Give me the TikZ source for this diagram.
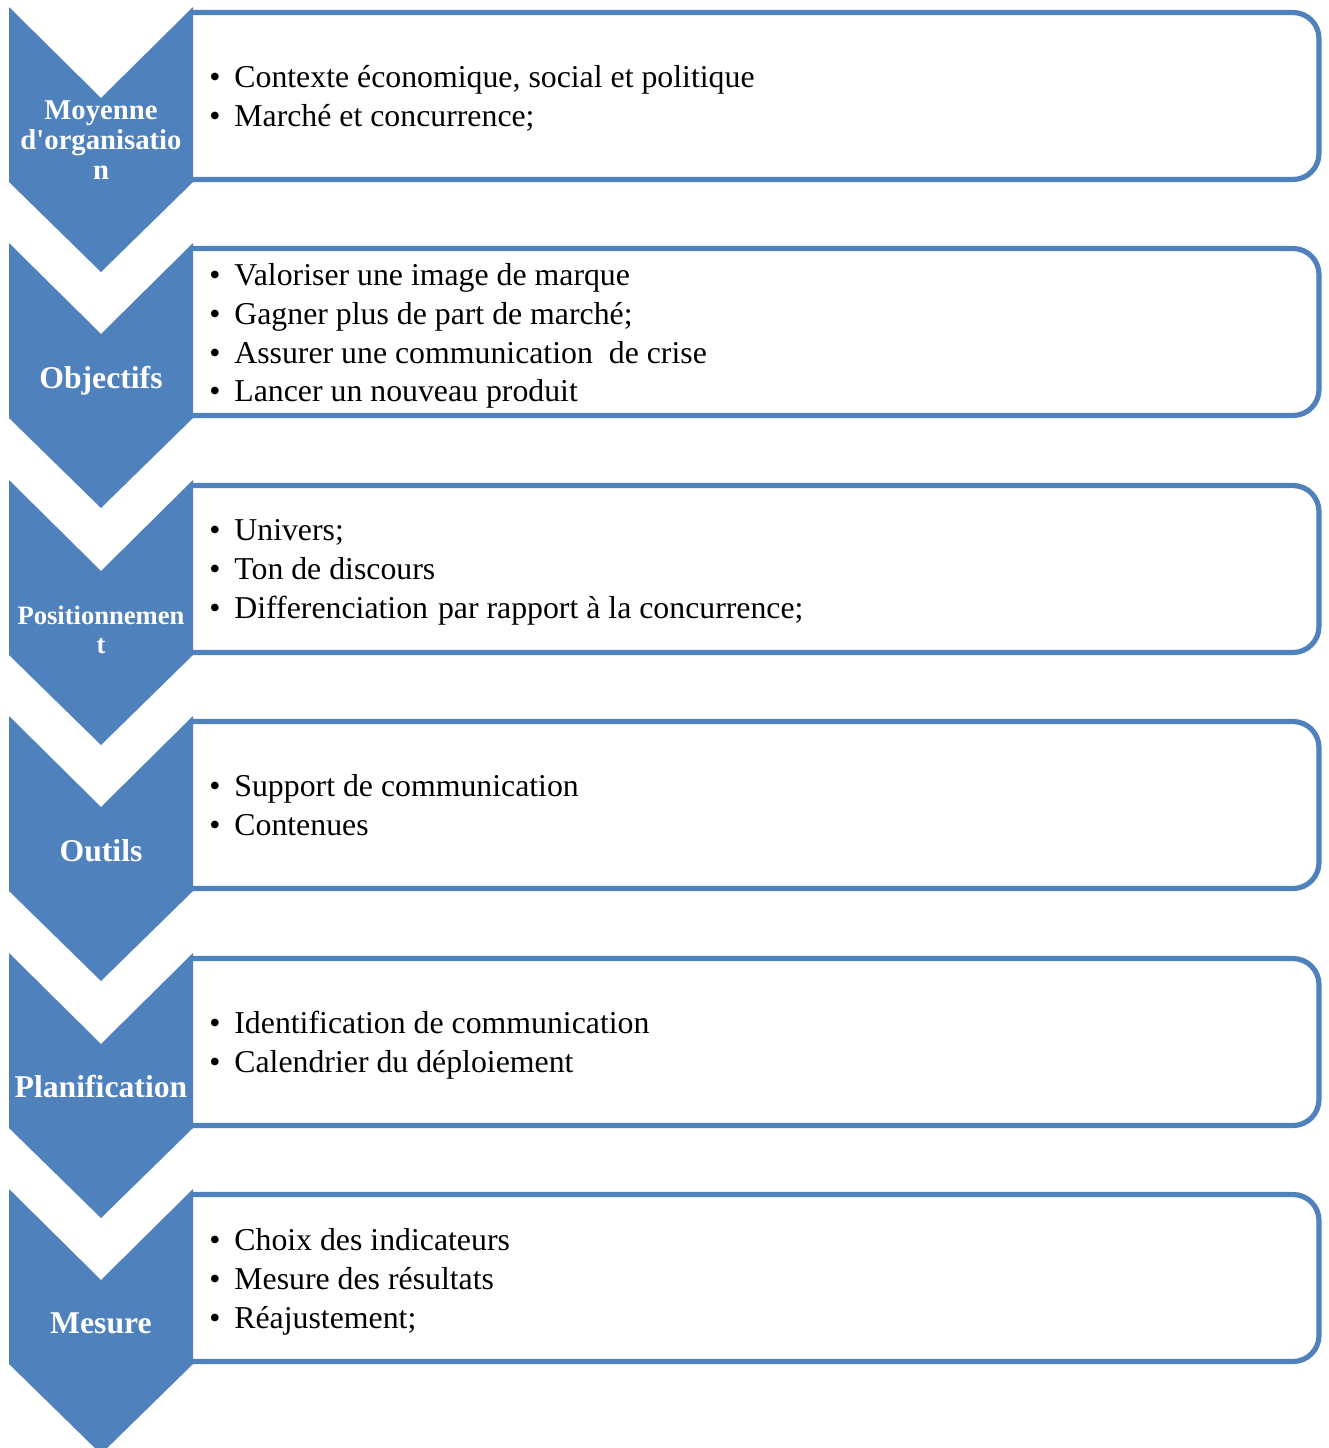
\documentclass[tikz,border=0pt]{standalone}
\usepackage{fontspec}
\setmainfont{Liberation Serif}
\usetikzlibrary{positioning}
\definecolor{accent}{HTML}{4F81BD}
\newcommand{\puce}{\makebox[12.5pt][l]{\textbullet}}

\begin{document}
\begin{tikzpicture}[x=0.5pt, y=-0.5pt,
	chevron/.style	={fill=accent},
	cadre/.style	={draw=accent, line width=2.6pt, rounded corners=13pt},
	etiquette/.style={text=white, align=center, inner sep=0pt},
	liste/.style	={anchor=west, align=left, inner sep=0pt, font=\fontsize{15.9}{19.4}\selectfont}]
	\useasboundingbox (0,0) rectangle (1329,1448);

	% cadres a droite
	\draw[cadre] (191,12.5)   -- (1319,12.5)   -- (1319,179.5)  -- (191,179.5);
	\draw[cadre] (191,248.5)  -- (1319,248.5)  -- (1319,415.5)  -- (191,415.5);
	\draw[cadre] (191,485.5)  -- (1319,485.5)  -- (1319,652.5)  -- (191,652.5);
	\draw[cadre] (191,721.5)  -- (1319,721.5)  -- (1319,888.5)  -- (191,888.5);
	\draw[cadre] (191,958.5)  -- (1319,958.5)  -- (1319,1125.5) -- (191,1125.5);
	\draw[cadre] (191,1194.5) -- (1319,1194.5) -- (1319,1361.5) -- (191,1361.5);

	% chevrons
	\fill[chevron] (9,7)    -- (101,98)   -- (193,7)    -- (193,182)  -- (101,272)  -- (9,182)  -- cycle;
	\fill[chevron] (9,243)  -- (101,334)  -- (193,243)  -- (193,418)  -- (101,508)  -- (9,418)  -- cycle;
	\fill[chevron] (9,480)  -- (101,571)  -- (193,480)  -- (193,655)  -- (101,745)  -- (9,655)  -- cycle;
	\fill[chevron] (9,716)  -- (101,807)  -- (193,716)  -- (193,891)  -- (101,981)  -- (9,891)  -- cycle;
	\fill[chevron] (9,953)  -- (101,1044) -- (193,953)  -- (193,1128) -- (101,1218) -- (9,1128) -- cycle;
	\fill[chevron] (9,1189) -- (101,1280) -- (193,1189) -- (193,1364) -- (101,1454) -- (9,1364) -- cycle;

	% etiquettes
	\node[etiquette, font=\bfseries\fontsize{14.35}{15}\selectfont]	(moyenne)	at (101,140)	{Moyenne\\d\textquotesingle organisatio\\n};
	\node[etiquette, font=\bfseries\fontsize{15.85}{17}\selectfont, anchor=base]	(objectifs)	at (101,388)	{Objectifs};
	\node[etiquette, font=\bfseries\fontsize{13.3}{14.5}\selectfont]	(position)	at (101,630)	{Positionnemen\\t};
	\node[etiquette, font=\bfseries\fontsize{15.85}{17}\selectfont, anchor=base]	(outils)	at (101,861)	{Outils};
	\node[etiquette, font=\bfseries\fontsize{15.85}{17}\selectfont, anchor=base]	(planif)	at (101,1097)	{Planification};
	\node[etiquette, font=\bfseries\fontsize{15.85}{17}\selectfont, anchor=base]	(mesure)	at (101,1333)	{Mesure};

	% listes
	\node[liste] (contexte)	at (209,98.5)	{\puce Contexte économique, social et politique\\
											 \puce Marché et concurrence;};
	\node[liste] (buts)		at (209,336)	{\puce Valoriser une image de marque\\
											 \puce Gagner plus de part de marché;\\
											 \puce Assurer une communication \ de crise\\
											 \puce Lancer un nouveau produit};
	\node[liste] (univers)	at (209,572.5)	{\puce Univers;\\
											 \puce Ton de discours\\
											 \puce Differenciation\hspace{1pt} par rapport à la concurrence;};
	\node[liste] (supports)	at (209,805)	{\puce Support de communication\\
											 \puce Contenues};
	\node[liste] (calendrier) at (209,1045)	{\puce Identification de communication\\
											 \puce Calendrier du déploiement};
	\node[liste] (indicateurs) at (209,1282) {\puce Choix des indicateurs\\
											 \puce Mesure des résultats\\
											 \puce Réajustement;};
\end{tikzpicture}
\end{document}
